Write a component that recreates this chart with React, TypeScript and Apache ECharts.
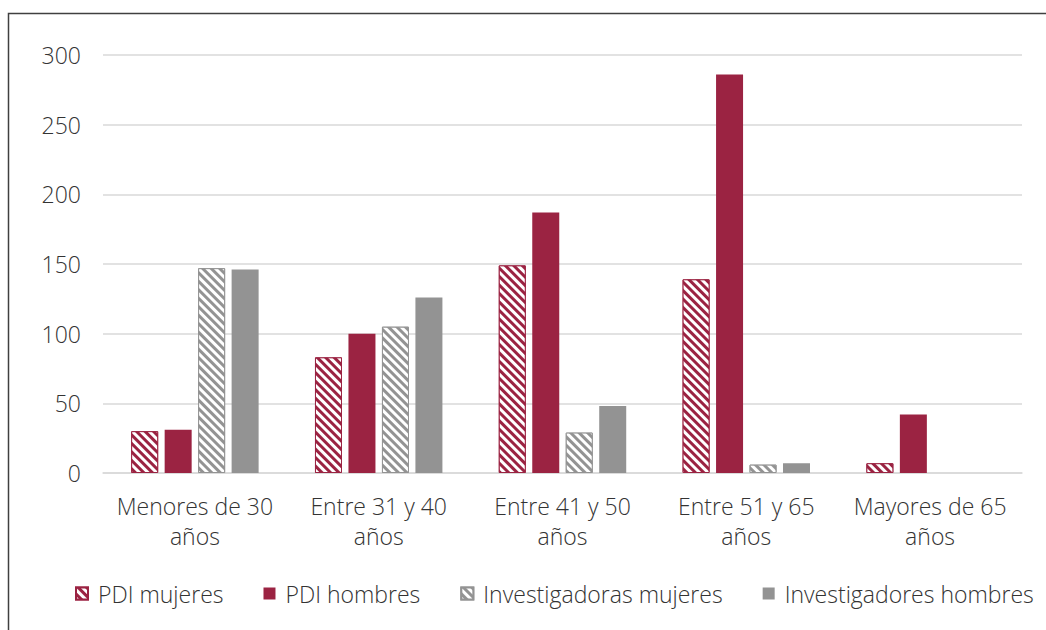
import React, { useEffect, useRef } from "react";
import * as echarts from "echarts";

const categories = [
  "Menores de 30\naños",
  "Entre 31 y 40\naños",
  "Entre 41 y 50\naños",
  "Entre 51 y 65\naños",
  "Mayores de 65\naños",
];
const seriesNames = ["PDI mujeres", "PDI hombres", "Investigadoras mujeres", "Investigadores hombres"];
const pdiMujeres = [30, 83, 149, 139, 7];
const pdiHombres = [31, 100, 187, 286, 42];
const invMujeres = [147, 105, 29, 6, 0];
const invHombres = [146, 126, 48, 7, 0];
const yTicks = { min: 0, max: 300, interval: 50 };

const MAROON = "#9b2342";
const GREY = "#939393";
const FONT = "Open Sans";
const FS = 23;
const FW = 300;
const TXT = "#333333";

const stripe = {
  symbol: "rect",
  symbolSize: 1,
  color: "#ffffff",
  dashArrayX: [1, 0],
  dashArrayY: [3, 3],
  rotation: Math.PI / 4,
};

export default function App() {
  const ref = useRef<HTMLDivElement>(null);
  useEffect(() => {
    if (!ref.current) return;
    const chart = echarts.init(ref.current, undefined, { renderer: "svg" });
    const mk = (name: string, data: number[], color: string, patterned: boolean) => ({
      name,
      type: "bar",
      data: data.map((v) => (v === 0 ? { value: v, itemStyle: { borderWidth: 0 } } : v)),
      barWidth: 27,
      barGap: "24%",
      itemStyle: {
        color,
        borderColor: color,
        borderWidth: patterned ? 1 : 0,
        decal: patterned ? stripe : undefined,
      },
    });
    chart.setOption({
      animation: false,
      textStyle: { fontFamily: FONT, fontWeight: FW },
      graphic: [
        {
          type: "rect",
          shape: { x: 8.5, y: 13.5, width: 1200, height: 800 },
          style: { fill: "none", stroke: "#404040", lineWidth: 1.5 },
          silent: true,
        },
      ],
      grid: { left: 103, right: 24, top: 55, bottom: 157, containLabel: false },
      legend: {
        left: 70,
        top: 577,
        itemWidth: 12,
        itemHeight: 12,
        itemGap: 40,
        icon: "rect",
        textStyle: { fontFamily: FONT, fontWeight: FW, fontSize: FS, color: TXT, padding: [0, 0, 0, 5] },
        data: seriesNames,
      },
      xAxis: {
        type: "category",
        data: categories,
        axisLine: { lineStyle: { color: "#d9d9d9", width: 1.5 } },
        axisTick: { show: false },
        axisLabel: {
          fontFamily: FONT,
          fontWeight: FW,
          fontSize: FS,
          color: TXT,
          margin: 18,
          lineHeight: 30,
          interval: 0,
        },
      },
      yAxis: {
        type: "value",
        ...yTicks,
        axisLine: { show: false },
        axisTick: { show: false },
        splitLine: { lineStyle: { color: "#d9d9d9", width: 1.5 } },
        axisLabel: { fontFamily: FONT, fontWeight: FW, fontSize: FS, color: TXT, margin: 22 },
      },
      series: [
        mk(seriesNames[0], pdiMujeres, MAROON, true),
        mk(seriesNames[1], pdiHombres, MAROON, false),
        mk(seriesNames[2], invMujeres, GREY, true),
        mk(seriesNames[3], invHombres, GREY, false),
      ],
    });
    return () => chart.dispose();
  }, []);
  return <div ref={ref} style={{ width: 1046, height: 630, position: "absolute", left: 0, top: 0 }} />;
}
